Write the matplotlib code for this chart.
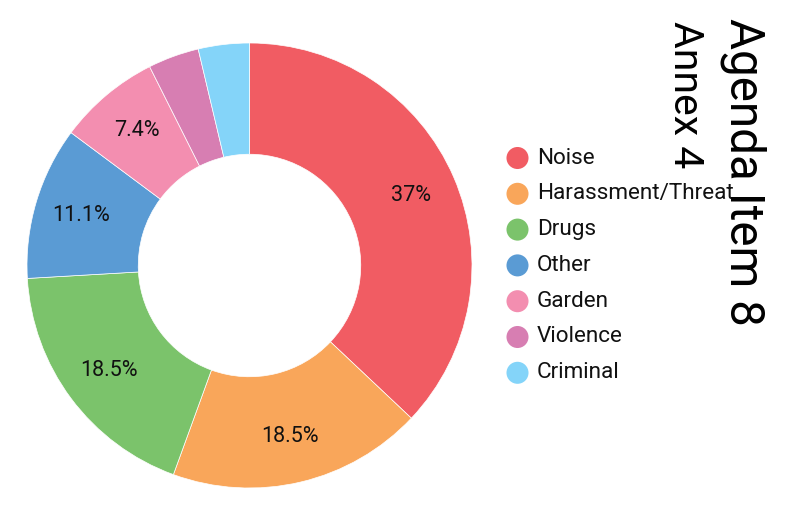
import matplotlib
matplotlib.use("Agg")
import matplotlib.pyplot as plt

plt.rcParams['font.family'] = ['Roboto', 'DejaVu Sans']

categories = ["Noise", "Harassment/Threat", "Drugs", "Other", "Garden", "Violence", "Criminal"]
counts = [10, 5, 5, 3, 2, 1, 1]
colors = ["#F15C63", "#F9A65A", "#7BC36B", "#5A9BD4", "#F38EB0", "#D77EB2", "#84D4F9"]

W, H = 805, 505
fig = plt.figure(figsize=(W / 100, H / 100), dpi=100)

# donut placement in pixels
cx, cy, r = 249.5, 265.5, 222.5
ax = fig.add_axes([(cx - r) / W, (H - cy - r) / H, 2 * r / W, 2 * r / H])


def fmt(p):
    if p < 5:
        return ""
    return f"{p:.1f}".rstrip("0").rstrip(".") + "%"


wedges, _, autotexts = ax.pie(
    counts, colors=colors, startangle=90, counterclock=False, radius=1,
    wedgeprops=dict(width=0.5, linewidth=0.5, edgecolor="white"),
    autopct=fmt, pctdistance=0.79,
    textprops=dict(fontsize=15.5, color="#111111"),
)
ax.set_xlim(-1, 1)
ax.set_ylim(-1, 1)
ax.set_aspect("equal")
ax.axis("off")

# legend with circular markers
lg = fig.add_axes([0, 0, 1, 1])
lg.set_xlim(0, W)
lg.set_ylim(H, 0)
lg.axis("off")
y0, step = 158, 35.8
for i, (name, c) in enumerate(zip(categories, colors)):
    y = y0 + i * step
    lg.scatter([517.5], [y], s=22 ** 2 * 0.52, color=c, edgecolors="none")
    lg.text(537, y, name, fontsize=16.2, va="center", ha="left", color="#111111")

fig.text(743 / W, 1 - 18 / H, "Agenda Item 8", rotation=-90, fontsize=34.3,
         ha="center", va="top", color="#000000")
fig.text(685 / W, 1 - 21 / H, "Annex 4", rotation=-90, fontsize=29.5,
         ha="center", va="top", color="#000000")

fig.savefig("out.png", dpi=100, facecolor="white")
